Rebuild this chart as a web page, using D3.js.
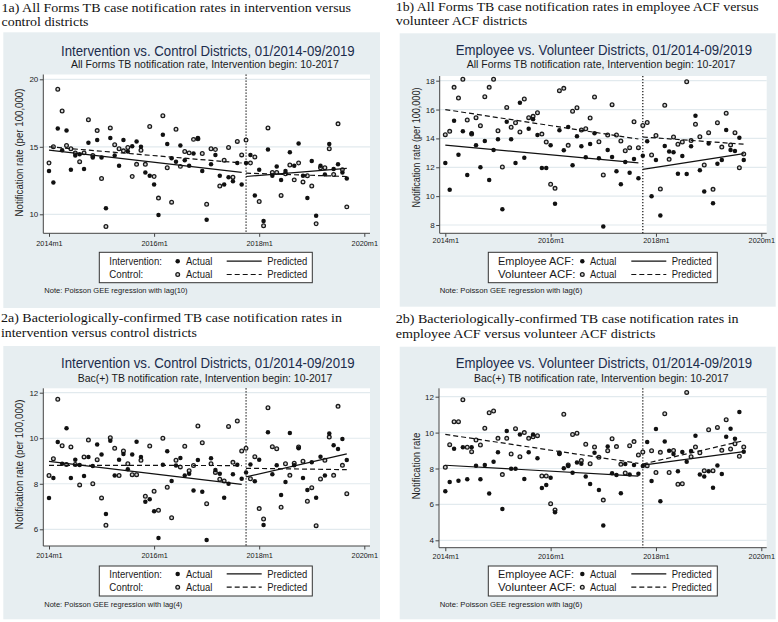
<!DOCTYPE html>
<html><head><meta charset="utf-8">
<script src="https://cdn.jsdelivr.net/npm/d3@7"></script>
<style>body{margin:0;background:#fff}svg{display:block}</style>
</head><body>
<svg id="c" width="778" height="622"></svg>
<script>
// ---------------- DATA ----------------
const months = d3.range(69);            // 0 = 2014m1 ... 68 = 2019m9
const xTickValues = [0, 24, 48, 72];
const xTickLabels = ["2014m1", "2016m1", "2018m1", "2020m1"];
const interventionMonth = 45;          // 2017m10

// 1a All forms, intervention (filled) vs control (hollow)
const p1aIntervention = [13.2,12.35,16.35,14.75,16.2,13.3,14.35,14.45,13.35,15.3,14.2,15.5,14.2,10.45,15.65,14.35,13.6,15.5,14.65,15.05,15.4,15.0,13.1,12.85,12.2,9.95,15.9,15.2,14.15,13.9,15.1,14.0,13.6,14.5,15.65,13.2,9.6,13.7,14.4,12.85,12.2,12.75,12.45,13.8,12.2,13.8,14.4,11.4,13.3,9.5,14.8,12.85,13.55,12.55,13.2,14.6,13.6,15.25,12.85,11.2,13.95,9.9,13.6,12.95,15.2,13.35,13.7,13.1,12.65];
const p1aControl = [13.8,15.0,19.26,17.65,15.1,14.85,14.55,13.9,14.55,17.0,14.35,16.2,12.65,9.1,16.4,15.15,14.85,14.7,14.95,12.8,13.7,14.75,13.7,16.5,12.8,11.2,17.3,13.45,10.9,16.3,13.55,14.65,14.55,15.55,15.6,14.5,10.75,14.85,14.8,12.1,14.0,14.95,12.75,15.4,14.4,15.5,13.8,14.25,10.95,9.15,16.4,13.1,13.1,11.4,13.0,13.65,12.55,13.8,12.4,12.85,12.1,9.3,13.45,13.45,14.85,12.95,16.7,13.3,10.55];
// predicted: [pre start, pre end, post start, post end]
const p1aPredIntervention = [14.75, 13.1, 12.8, 13.4];
const p1aPredControl = [15.0, 13.8, 13.05, 12.8];

// 1b All forms, employee ACF (filled) vs volunteer ACF (hollow)
const p1bEmployee = [12.3,10.45,15.23,12.87,14.49,11.46,14.35,13.52,12.0,13.82,11.12,13.2,13.94,9.1,15.16,13.94,12.3,16.48,12.66,14.67,15.33,14.24,11.95,11.95,13.52,9.48,14.56,13.18,14.79,12.14,14.15,13.45,12.69,13.61,14.35,12.62,7.9,13.2,12.71,11.72,10.82,12.37,11.62,12.57,11.24,12.8,13.8,10.0,12.5,8.65,13.47,13.1,13.05,11.56,12.78,11.53,13.45,15.57,11.8,10.33,13.64,9.5,12.25,12.5,14.58,13.2,13.13,14.05,12.5];
const p1bVolunteer = [14.26,14.49,17.54,16.8,18.1,15.28,14.3,15.44,14.88,16.89,17.54,18.1,14.53,12.02,16.15,14.77,15.09,14.44,16.73,15.44,15.53,15.78,14.3,13.75,10.82,10.54,17.31,17.47,13.52,15.88,16.13,14.58,14.67,15.42,16.87,13.77,11.46,14.24,16.34,14.24,13.82,13.15,13.36,15.16,13.36,14.9,15.1,12.85,14.2,10.5,16.3,12.55,14.1,13.6,13.75,17.93,13.85,14.98,14.12,12.16,14.4,10.47,15.09,13.4,15.74,13.55,14.4,11.97,12.92];
const p1bPredEmployee = [13.54, 12.3, 11.86, 12.94];
const p1bPredVolunteer = [16.0, 13.96, 14.1, 13.6];

// 2a Bac(+), intervention (filled) vs control (hollow)
const p2aIntervention = [7.38,8.25,9.83,8.88,10.44,8.25,9.06,8.82,8.34,9.18,8.78,9.72,9.29,6.67,9.89,8.36,9.06,9.31,8.64,9.29,9.85,9.18,7.21,7.32,6.79,5.62,8.84,9.43,8.12,8.8,9.13,8.36,8.44,7.7,9.04,7.65,5.53,9.12,8.6,8.44,7.39,8.0,8.42,8.83,8.22,8.5,8.85,8.11,9.06,6.19,10.26,8.42,8.81,7.51,8.08,10.23,8.81,9.56,8.25,7.73,8.94,7.39,9.19,8.36,10.21,9.69,9.53,9.97,9.04];
const p2aControl = [8.36,9.1,11.71,9.67,8.85,9.62,8.85,7.95,9.18,9.92,8.0,9.06,7.38,6.18,10.02,9.56,8.36,9.44,8.88,8.4,8.4,9.03,7.45,9.66,7.67,6.84,10.0,7.85,6.51,9.03,8.74,9.65,8.57,8.8,10.54,9.8,7.12,8.88,8.5,8.2,8.12,10.52,8.94,10.76,9.44,9.56,8.22,9.19,6.91,6.45,11.34,9.63,9.54,6.97,8.88,8.37,8.9,9.62,8.99,7.23,7.83,6.16,8.21,9.03,10.05,8.37,11.4,8.81,7.56];
const p2aPredIntervention = [8.98, 7.97, 8.3, 9.31];
const p2aPredControl = [8.81, 8.8, 8.68, 8.62];

// 2b Bac(+), employee ACF (filled) vs volunteer ACF (hollow)
const p2bEmployee = [6.73,7.25,9.1,7.32,9.18,7.4,9.18,8.16,7.4,8.19,6.61,8.38,8.9,5.74,10.09,7.99,7.99,9.9,7.41,8.9,9.9,8.57,6.91,7.08,7.49,5.56,8.81,8.01,8.14,7.77,8.34,8.27,7.55,7.14,8.88,6.8,4.83,9.22,7.73,7.64,6.62,8.25,7.67,8.19,7.71,8.14,9.48,7.3,10.2,6.17,9.51,8.99,8.81,7.84,8.92,8.38,8.97,9.83,7.67,7.56,7.84,6.93,8.17,7.69,9.77,10.22,9.66,11.15,8.94];
const p2bVolunteer = [8.07,9.33,10.61,10.61,11.83,9.18,8.94,9.59,9.31,10.24,11.11,11.2,9.68,7.66,9.68,8.81,10.22,8.66,10.0,9.68,9.77,9.83,7.58,7.58,6.04,5.69,8.87,11.02,8.2,9.89,9.96,8.45,9.35,8.27,9.2,8.62,6.24,8.99,9.66,9.22,8.23,7.75,9.27,9.5,8.75,8.92,8.16,8.99,7.78,8.9,11.05,7.78,9.0,7.12,7.15,12.24,8.66,9.2,8.88,7.88,10.16,7.88,10.29,9.01,10.72,9.09,9.38,8.68,9.2];
const p2bPredEmployee = [8.18, 7.58, 8.19, 8.94];
const p2bPredVolunteer = [9.9, 8.29, 8.25, 9.55];

const yTicks1a = [10, 15, 20];
const yTicks1b = [8, 10, 12, 14, 16, 18];
const yTicks2a = [6, 8, 10, 12];
const yTicks2b = [4, 6, 8, 10, 12];

// ---------------- LAYOUT ----------------
const SANS = "'Liberation Sans', Arial, Helvetica, sans-serif";
const SERIF = "'Liberation Serif', 'Times New Roman', serif";
const BG = "#e7eef1", GRID = "#e2eaee", INK = "#1a1a1a", TITLE = "#1c2c4c";

const panels = [
  { caption: ["1a) All Forms TB case notification rates in intervention versus", "control districts"],
    title: "Intervention vs. Control Districts, 01/2014-09/2019",
    subtitle: "All Forms TB notification rate, Intervention begin: 10-2017",
    ylabel: "Notification rate (per 100,000)",
    names: ["Intervention:", "Control:"], note: "Note: Poisson GEE regression with lag(10)",
    A: p1aIntervention, B: p1aControl, pA: p1aPredIntervention, pB: p1aPredControl, yTicks: yTicks1a,
    L: { bg:[3.3,32.3,376.7,275.7], plot:[43.3,74.5,370,233.3], xPx:[49,364.3], yPx:[214.3,79.3],
         cap:[[1.5,11.5,350],[1.5,25.5,87]], title:[61,55.5,294], sub:[71,68.3,268], ylab:[22.5,152.5,128],
         xtickY:245.7, box:[99.3,252.3,213,30.4], tx:109.3, w:[52.7,34], mx:177.7, ax:186, lx:[226.7,261.7], px:267.3,
         rows:[265,278.3], note:[44.3,293.3,143.4] } },
  { caption: ["1b) All Forms TB case notification rates in employee ACF versus", "volunteer ACF districts"],
    title: "Employee vs. Volunteer Districts, 01/2014-09/2019",
    subtitle: "All Forms TB notification rate, Intervention begin: 10-2017",
    ylabel: "Notification rate (per 100,000)",
    names: ["Employee ACF:", "Volunteer ACF:"], note: "Note: Poisson GEE regression with lag(6)",
    A: p1bEmployee, B: p1bVolunteer, pA: p1bPredEmployee, pB: p1bPredVolunteer, yTicks: yTicks1b,
    L: { bg:[399.7,33.3,376,273.4], plot:[439.7,76,766.7,233.3], xPx:[445.3,761.3], yPx:[225,80.7],
         cap:[[395.7,11,363.3],[395.7,25,131.7]], title:[455.7,55,296.7], sub:[466.7,68.3,269], ylab:[420,147.5,120],
         xtickY:243.5, box:[488.3,252.3,229,30.4], tx:498, w:[76,77.7], mx:582.3, ax:590, lx:[631.3,666.3], px:671.7,
         rows:[265,278.3], note:[439.7,293.3,142.7] } },
  { caption: ["2a) Bacteriologically-confirmed TB case notification rates in", "intervention versus control districts"],
    title: "Intervention vs. Control Districts, 01/2014-09/2019",
    subtitle: "Bac(+) TB notification rate, Intervention begin: 10-2017",
    ylabel: "Notification rate (per 100,000)",
    names: ["Intervention:", "Control:"], note: "Note: Poisson GEE regression with lag(4)",
    A: p2aIntervention, B: p2aControl, pA: p2aPredIntervention, pB: p2aPredControl, yTicks: yTicks2a,
    L: { bg:[3.3,346,376.7,273.3], plot:[43.3,388.3,370,546], xPx:[49,364.3], yPx:[529.3,392.7],
         cap:[[1,322,341],[1,337,196]], title:[61,368.3,294], sub:[77.7,381.7,254.7], ylab:[22.5,464.3,130],
         xtickY:558.3, box:[99.3,566,213,30], tx:109.3, w:[52.7,34], mx:177.7, ax:186, lx:[226.7,261.7], px:267.3,
         rows:[577.7,591], note:[44.3,607,138.3] } },
  { caption: ["2b) Bacteriologically-confirmed TB case notification rates in", "employee ACF versus volunteer ACF districts"],
    title: "Employee vs. Volunteer Districts, 01/2014-09/2019",
    subtitle: "Bac(+) TB notification rate, Intervention begin: 10-2017",
    ylabel: "Notification rate",
    names: ["Employee ACF:", "Volunteer ACF:"], note: "Note: Poisson GEE regression with lag(6)",
    A: p2bEmployee, B: p2bVolunteer, pA: p2bPredEmployee, pB: p2bPredVolunteer, yTicks: yTicks2b,
    L: { bg:[399.7,346.7,376,272.6], plot:[439,388.3,766.7,547.7], xPx:[445.3,761.3], yPx:[540.3,396.7],
         cap:[[395.7,322.7,343.3],[395.7,337.7,260]], title:[455.7,368.3,296.7], sub:[474,381.7,255], ylab:[420,466,66.7],
         xtickY:559.3, box:[488.3,566,229,30], tx:498, w:[76,77.7], mx:582.3, ax:590, lx:[631.3,666.3], px:671.7,
         rows:[577.7,591], note:[439.7,607,142.7] } }
];

// ---------------- DRAW ----------------
const svg = d3.select("#c");

// text with its width fitted by a horizontal scale (reference is horizontally compressed)
function txt(g, x, y, s, o) {
  const t = g.append("text").attr("x", 0).attr("y", 0).text(s)
    .attr("font-family", o.serif ? SERIF : SANS).attr("font-size", o.size)
    .attr("fill", o.fill || INK);
  if (o.anchor) t.attr("text-anchor", o.anchor);
  let sx = 1;
  if (o.w) { const nat = t.node().getComputedTextLength(); if (nat > 0) sx = o.w / nat; }
  t.attr("transform", `translate(${x},${y})${o.rot ? " rotate(-90)" : ""} scale(${sx},1)`);
  return t;
}

function hollow(sel) {
  return sel.attr("r", 1.85).attr("fill", "#d6d6d6").attr("stroke", "#1a1a1a").attr("stroke-width", 1.3);
}

function drawPanel(p) {
  const L = p.L, g = svg.append("g");
  p.caption.forEach((c, i) => txt(g, L.cap[i][0], L.cap[i][1], c, { serif: true, size: 13.5, w: L.cap[i][2], fill: "#111" }));
  g.append("rect").attr("x", L.bg[0]).attr("y", L.bg[1]).attr("width", L.bg[2]).attr("height", L.bg[3]).attr("fill", BG);
  txt(g, L.title[0], L.title[1], p.title, { size: 15, w: L.title[2], fill: TITLE });
  txt(g, L.sub[0], L.sub[1], p.subtitle, { size: 10.5, w: L.sub[2] });

  const [x0, y0, x1, y1] = L.plot;
  g.append("rect").attr("x", x0).attr("y", y0).attr("width", x1 - x0).attr("height", y1 - y0).attr("fill", "#fff");

  const x = d3.scaleLinear().domain([0, 72]).range(L.xPx);
  const yt = p.yTicks;
  const y = d3.scaleLinear().domain([yt[0], yt[yt.length - 1]]).range(L.yPx);

  g.append("g").selectAll("line").data(yt).join("line")
    .attr("x1", x0).attr("x2", x1).attr("y1", d => y(d)).attr("y2", d => y(d))
    .attr("stroke", GRID).attr("stroke-width", 1.2);

  const ya = g.append("g").attr("transform", `translate(${x0},0)`)
    .call(d3.axisLeft(y).tickValues(yt).tickFormat(d3.format("d")).tickSize(3.5).tickPadding(1.5));
  ya.select(".domain").remove();
  ya.selectAll("text").attr("font-family", SANS).attr("font-size", 8).attr("fill", INK);
  ya.selectAll("line").attr("stroke", "#444");
  g.append("line").attr("x1", x0).attr("x2", x0).attr("y1", y0).attr("y2", y1).attr("stroke", "#444").attr("stroke-width", 1);

  const xa = g.append("g").attr("transform", `translate(0,${y1})`)
    .call(d3.axisBottom(x).tickValues(xTickValues).tickFormat((d, i) => xTickLabels[i]).tickSize(3.5).tickPadding(2));
  xa.select(".domain").remove();
  xa.selectAll("line").attr("stroke", "#444");
  xa.selectAll("text").attr("font-family", SANS).attr("font-size", 7.3).attr("fill", INK)
    .attr("dy", null).attr("y", L.xtickY - y1);
  g.append("line").attr("x1", x0).attr("x2", x1).attr("y1", y1).attr("y2", y1).attr("stroke", "#444").attr("stroke-width", 1);

  txt(g, L.ylab[0], L.ylab[1], p.ylabel, { size: 11, w: L.ylab[2], anchor: "middle", fill: "#222", rot: true });

  g.append("line").attr("x1", x(interventionMonth)).attr("x2", x(interventionMonth))
    .attr("y1", y0).attr("y2", y1).attr("stroke", "#222").attr("stroke-width", 1.3).attr("stroke-dasharray", "1.3,1.7");

  hollow(g.append("g").selectAll("circle").data(p.B).join("circle")
    .attr("cx", (d, i) => x(months[i])).attr("cy", d => y(d)));
  g.append("g").selectAll("circle").data(p.A).join("circle")
    .attr("cx", (d, i) => x(months[i])).attr("cy", d => y(d)).attr("r", 2.25).attr("fill", "#111");

  const seg = (v, dash) => {
    [[0, 44, v[0], v[1]], [45, 68, v[2], v[3]]].forEach(s => {
      g.append("line").attr("x1", x(months[s[0]])).attr("x2", x(months[s[1]]))
        .attr("y1", y(s[2])).attr("y2", y(s[3])).attr("stroke", "#111").attr("stroke-width", 1.2)
        .attr("stroke-dasharray", dash ? "5,3" : null);
    });
  };
  seg(p.pA, false);
  seg(p.pB, true);

  const b = L.box;
  g.append("rect").attr("x", b[0]).attr("y", b[1]).attr("width", b[2]).attr("height", b[3])
    .attr("fill", "#fff").attr("stroke", "#333").attr("stroke-width", 1);
  L.rows.forEach((ry, i) => {
    txt(g, L.tx, ry, p.names[i], { size: 10.5, w: L.w[i] });
    if (i === 0) g.append("circle").attr("cx", L.mx).attr("cy", ry - 3.8).attr("r", 2.25).attr("fill", "#111");
    else hollow(g.append("circle").attr("cx", L.mx).attr("cy", ry - 3.8));
    txt(g, L.ax, ry, "Actual", { size: 10.5, w: 26.3 });
    g.append("line").attr("x1", L.lx[0]).attr("x2", L.lx[1]).attr("y1", ry - 3.8).attr("y2", ry - 3.8)
      .attr("stroke", "#111").attr("stroke-width", 1.2).attr("stroke-dasharray", i ? "5,3" : null);
    txt(g, L.px, ry, "Predicted", { size: 10.5, w: 40 });
  });
  txt(g, L.note[0], L.note[1], p.note, { size: 7.5, w: L.note[2] });
}

panels.forEach(drawPanel);
</script>
</body></html>
